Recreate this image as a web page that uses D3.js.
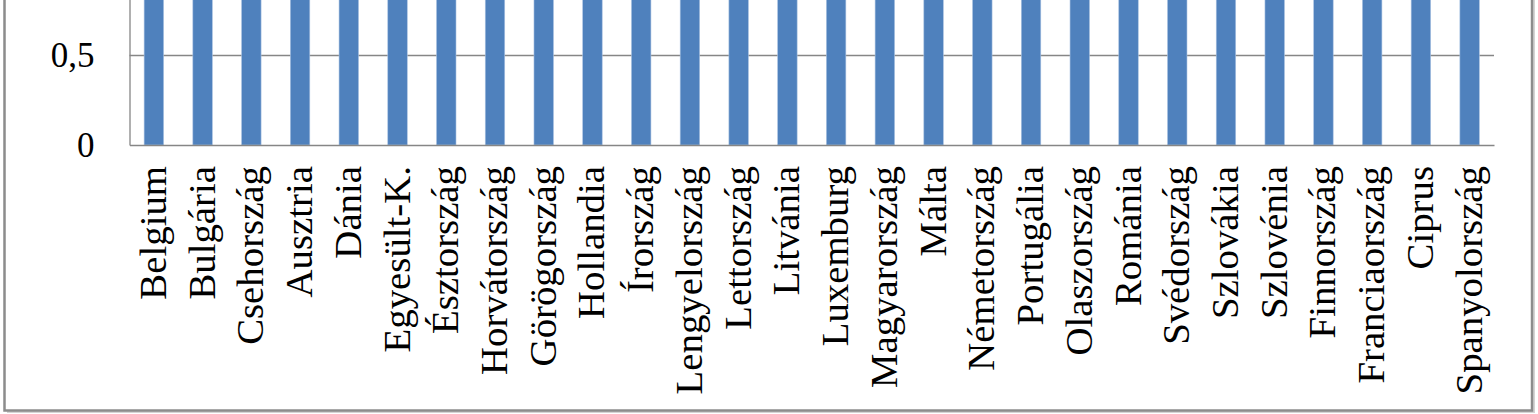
<!DOCTYPE html>
<html>
<head>
<meta charset="utf-8">
<script src="https://cdn.jsdelivr.net/npm/d3@7"></script>
<style>
  html, body { margin: 0; padding: 0; background: #ffffff; }
  svg { display: block; }
  text { font-family: "Liberation Serif", "Times New Roman", serif; fill: #000; }
</style>
</head>
<body>
<svg id="chart" width="1538" height="414"></svg>
<script>
// categories along the x axis
const countries = [
  "Belgium", "Bulgária", "Csehország", "Ausztria", "Dánia", "Egyesült-K.",
  "Észtország", "Horvátország", "Görögország", "Hollandia", "Írország",
  "Lengyelország", "Lettország", "Litvánia", "Luxemburg", "Magyarország",
  "Málta", "Németország", "Portugália", "Olaszország", "Románia",
  "Svédország", "Szlovákia", "Szlovénia", "Finnország", "Franciaország",
  "Ciprus", "Spanyolország"
];
// every bar runs past the top of the crop, so these are estimates
const values = [
  1, 1, 1, 1, 1, 1, 1, 1, 1, 1, 1, 1, 1, 1,
  1, 1, 1, 1, 1, 1, 1, 1, 1, 1, 1, 1, 1, 1
];
const yTicks = [0, 0.5];

const data = countries.map((c, i) => ({ name: c, value: values[i] }));

const svg = d3.select("#chart");
const W = 1538, H = 414;

const plot = { left: 129.5, right: 1494, zero: 145, half: 54.5 };

// hungarian decimal comma
const hu = d3.formatLocale({ decimal: ",", thousands: " ", grouping: [3], currency: ["", " Ft"] });
const fmt = hu.format("~g");

// chart frame (top edge is cropped away)
svg.append("rect")
    .attr("x", 7).attr("y", -20)
    .attr("width", 1528).attr("height", 433)
    .attr("fill", "#d4d4d4");
svg.append("rect")
    .attr("x", 4.5).attr("y", -20)
    .attr("width", 1527.5).attr("height", 430.5)
    .attr("fill", "#ffffff")
    .attr("stroke", "#8c8c8c")
    .attr("stroke-width", 2.5);

const x = d3.scaleBand()
    .domain(countries)
    .range([plot.left, plot.right])
    .padding(0);

const y = d3.scaleLinear()
    .domain([0, 0.5])
    .range([plot.zero, plot.half]);

const barW = x.bandwidth() / 2.5;

svg.append("defs").append("clipPath").attr("id", "plotclip")
    .append("rect")
    .attr("x", 0).attr("y", 0)
    .attr("width", W).attr("height", plot.zero);

// gridlines
svg.append("g")
    .selectAll("line")
    .data(yTicks.filter(d => d > 0))
    .join("line")
    .attr("x1", plot.left).attr("x2", plot.right)
    .attr("y1", d => Math.round(y(d)) + 0.5).attr("y2", d => Math.round(y(d)) + 0.5)
    .attr("stroke", "#868686")
    .attr("stroke-width", 1.3);

// bars
svg.append("g")
    .attr("clip-path", "url(#plotclip)")
    .selectAll("rect")
    .data(data)
    .join("rect")
    .attr("x", d => x(d.name) + (x.bandwidth() - barW) / 2)
    .attr("width", barW)
    .attr("y", d => y(d.value))
    .attr("height", d => y(0) - y(d.value))
    .attr("fill", "#4f81bd")
    .attr("stroke", "#a9c2e2")
    .attr("stroke-width", 0.6);

// y axis
const yAxis = svg.append("g")
    .attr("transform", `translate(${plot.left},0)`)
    .call(d3.axisLeft(y).tickValues(yTicks).tickFormat(fmt).tickSize(0).tickPadding(35));
yAxis.select(".domain")
    .attr("stroke", "#868686")
    .attr("stroke-width", 1.3)
    .attr("d", `M0.5,-20V${plot.zero + 0.5}`);
yAxis.selectAll("text")
    .attr("font-family", "Liberation Serif, Times New Roman, serif")
    .attr("font-size", 35)
    .attr("dy", "0.34em");

// x axis
const xAxis = svg.append("g")
    .attr("transform", `translate(0,${plot.zero})`)
    .call(d3.axisBottom(x).tickSize(0).tickPadding(0));
xAxis.select(".domain")
    .attr("stroke", "#868686")
    .attr("stroke-width", 1.3);
xAxis.selectAll("text")
    .attr("font-family", "Liberation Serif, Times New Roman, serif")
    .attr("font-size", 38.8)
    .attr("text-anchor", "end")
    .attr("y", 0)
    .attr("dy", "0.31em")
    .attr("transform", "translate(0,21) rotate(-90)");
</script>
</body>
</html>
